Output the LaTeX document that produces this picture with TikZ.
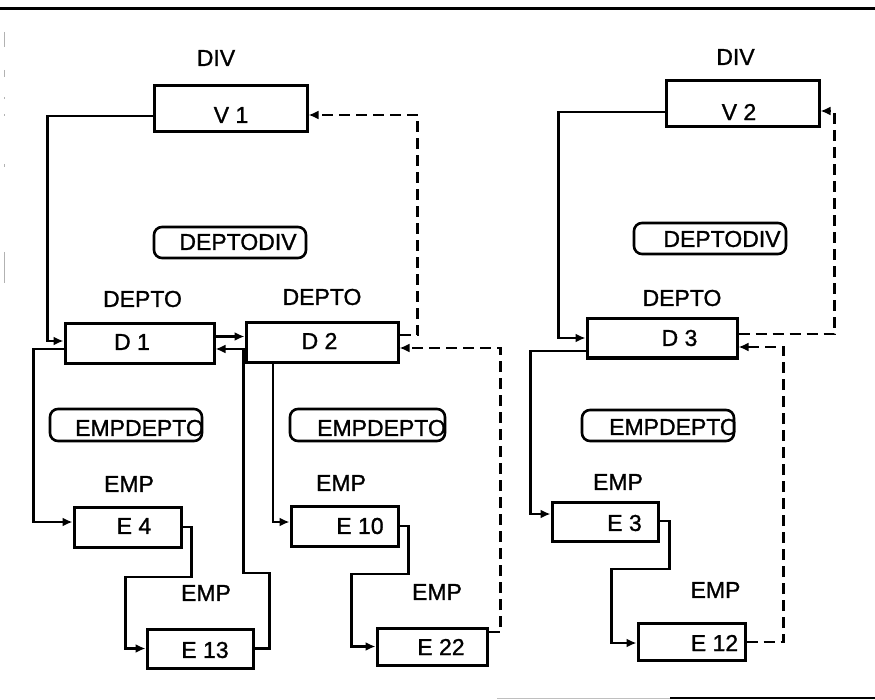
\documentclass[tikz,border=0pt]{standalone}
\usepackage{fontspec}
\setmainfont{Liberation Sans}
\newfontfamily\lblfont{Liberation Sans}[FakeBold=1.2]
\usetikzlibrary{arrows.meta}
\begin{document}
\begin{tikzpicture}[x=1pt,y=-1pt,
  txt/.style={inner sep=0pt,font=\lblfont\fontsize{23}{27}\selectfont},
  box/.style={draw,line width=3pt,inner sep=0pt},
  rbox/.style={draw,line width=2.6pt,rounded corners=8pt,inner sep=0pt},
  conn/.style={line width=2.6pt,-{Latex[length=10pt,width=9pt]}},
  dconn/.style={conn,dash pattern=on 11pt off 6pt}]
\useasboundingbox (0,0) rectangle (875,700);
% frame lines
\draw[line width=3pt] (0,8.5) -- (875,8.5);
\draw[line width=1.8pt,gray!50] (497,698.5) -- (670,698.5);
\draw[line width=2.6pt] (670,698) -- (875,698);
\foreach \a/\b in {32/47,70/77,97/99,114/116,164/167,252/283}
  \draw[gray!60,line width=1.2pt] (4.5,\a) -- (4.5,\b);
% boxes
\node[box,minimum width=153pt,minimum height=46pt] (V1) at (230.5,109) {};
\node[box,minimum width=153pt,minimum height=46pt] (V2) at (742.5,104) {};
\node[box,minimum width=149pt,minimum height=39pt] (D1) at (139.5,343.5) {};
\node[box,minimum width=152pt,minimum height=39pt] (D2) at (322,342.5) {};
\node[box,minimum width=150pt,minimum height=39pt] (D3) at (662,338.5) {};
\node[box,minimum width=107pt,minimum height=40pt] (E4) at (127.5,527) {};
\node[box,minimum width=106pt,minimum height=39pt] (E13) at (200,648.5) {};
\node[box,minimum width=107pt,minimum height=40pt] (E10) at (344.5,526) {};
\node[box,minimum width=110pt,minimum height=37pt] (E22) at (432,646.5) {};
\node[box,minimum width=106pt,minimum height=39pt] (E3) at (605,521.5) {};
\node[box,minimum width=107pt,minimum height=37pt] (E12) at (691.5,641.5) {};
% box texts
\node[txt] (V1t) at (231,115) {V 1};
\node[txt] (V2t) at (739,112) {V 2};
\node[txt] (D1t) at (132,342) {D 1};
\node[txt] (D2t) at (319.5,341) {D 2};
\node[txt] (D3t) at (679.5,338) {D 3};
\node[txt] (E4t) at (134,526) {E 4};
\node[txt] (E13t) at (205,650) {E 13};
\node[txt] (E10t) at (360,526) {E 10};
\node[txt] (E22t) at (441,647) {E 22};
\node[txt] (E3t) at (624.5,523) {E 3};
\node[txt] (E12t) at (714.5,643) {E 12};
% relation boxes
\node[rbox,minimum width=152pt,minimum height=31pt] (DD1) at (230,242.5) {};
\node[txt] (DD1t) at (238,242) {DEPTODIV};
\node[rbox,minimum width=152pt,minimum height=31pt] (DD2) at (710,238.5) {};
\node[txt] (DD2t) at (722,239) {DEPTODIV};
\node[rbox,minimum width=152pt,minimum height=32pt] (ED1) at (126,425) {};
\node[rbox,minimum width=155pt,minimum height=32pt] (ED2) at (367.5,425) {};
\node[rbox,minimum width=152pt,minimum height=31pt] (ED3) at (658,425.5) {};
\begin{scope}
  \clip (ED1.south west) rectangle (ED1.north east);
  \node[txt,anchor=west] (ED1t) at (75,428) {EMPDEPTO};
\end{scope}
\begin{scope}
  \clip (ED2.south west) rectangle (ED2.north east);
  \node[txt,anchor=west] (ED2t) at (317,428) {EMPDEPTO};
\end{scope}
\begin{scope}
  \clip (ED3.south west) rectangle (ED3.north east);
  \node[txt,anchor=west] (ED3t) at (609,427) {EMPDEPTO};
\end{scope}
% type labels
\node[txt] (L1) at (216,58) {DIV};
\node[txt] (L2) at (735.5,57) {DIV};
\node[txt] (L3) at (142.5,299) {DEPTO};
\node[txt] (L4) at (322,297) {DEPTO};
\node[txt] (L5) at (682,298) {DEPTO};
\node[txt] (L6) at (129,484) {EMP};
\node[txt] (L7) at (206,593) {EMP};
\node[txt] (L8) at (341,483) {EMP};
\node[txt] (L9) at (437,592) {EMP};
\node[txt] (L10) at (618,482) {EMP};
\node[txt] (L11) at (715.5,590) {EMP};
% solid connectors
\draw[conn] ([yshift=-7pt]V1.west) -| ([xshift=-16pt,yshift=2.5pt]D1.west) -- ([yshift=2.5pt]D1.west);
\draw[conn] ([yshift=-5.5pt]D1.west) -| ([xshift=-39pt,yshift=5pt]E4.west) -- ([yshift=5pt]E4.west);
\draw[conn] (E4.east) -- ++(9,0) -- ++(0,50) -| ([xshift=-20pt]E13.west) -- (E13.west);
\draw[conn] (E13.east) -- ++(15,0) -- ++(0,-75.5) -| ([xshift=28pt,yshift=-5.5pt]D1.east) -- ([yshift=-5.5pt]D1.east);
\draw[conn] ([yshift=7pt]D1.east) -- ([yshift=7pt]D1.east -| D2.west);
\draw[conn] ([xshift=-49pt]D2.south) |- ([yshift=4pt]E10.west);
\draw[conn] (E10.east) -- ++(9,0) -- ++(0,48) -| ([xshift=-24pt]E22.west) -- (E22.west);
\draw[conn] ([yshift=-8pt]V2.west) -| ([xshift=-27pt,yshift=0.5pt]D3.west) -- ([yshift=0.5pt]D3.west);
\draw[conn] ([yshift=-12.5pt]D3.west) -| ([xshift=-20pt,yshift=7.5pt]E3.west) -- ([yshift=7.5pt]E3.west);
\draw[conn] ([yshift=0.5pt]E3.east) -- ++(10,0) -- ++(0,48) -| ([xshift=-25pt,yshift=-1.5pt]E12.west) -- ([yshift=-1.5pt]E12.west);
% dashed connectors
\draw[dconn] ([yshift=14.5pt]E22.east) -| ([xshift=101pt,yshift=-5.5pt]D2.east) -- ([yshift=-5.5pt]D2.east);
\draw[dconn] ([yshift=7.5pt]D2.east) -| ([xshift=109pt,yshift=-6pt]V1.east) -- ([yshift=-6pt]V1.east);
\draw[dconn] ([yshift=-0.5pt]E12.east) -| ([xshift=45pt,yshift=-8.5pt]D3.east) -- ([yshift=-8.5pt]D3.east);
\draw[dconn] ([yshift=4.5pt]D3.east) -| ([xshift=14pt,yshift=-7pt]V2.east) -- ([yshift=-7pt]V2.east);
\end{tikzpicture}
\end{document}
